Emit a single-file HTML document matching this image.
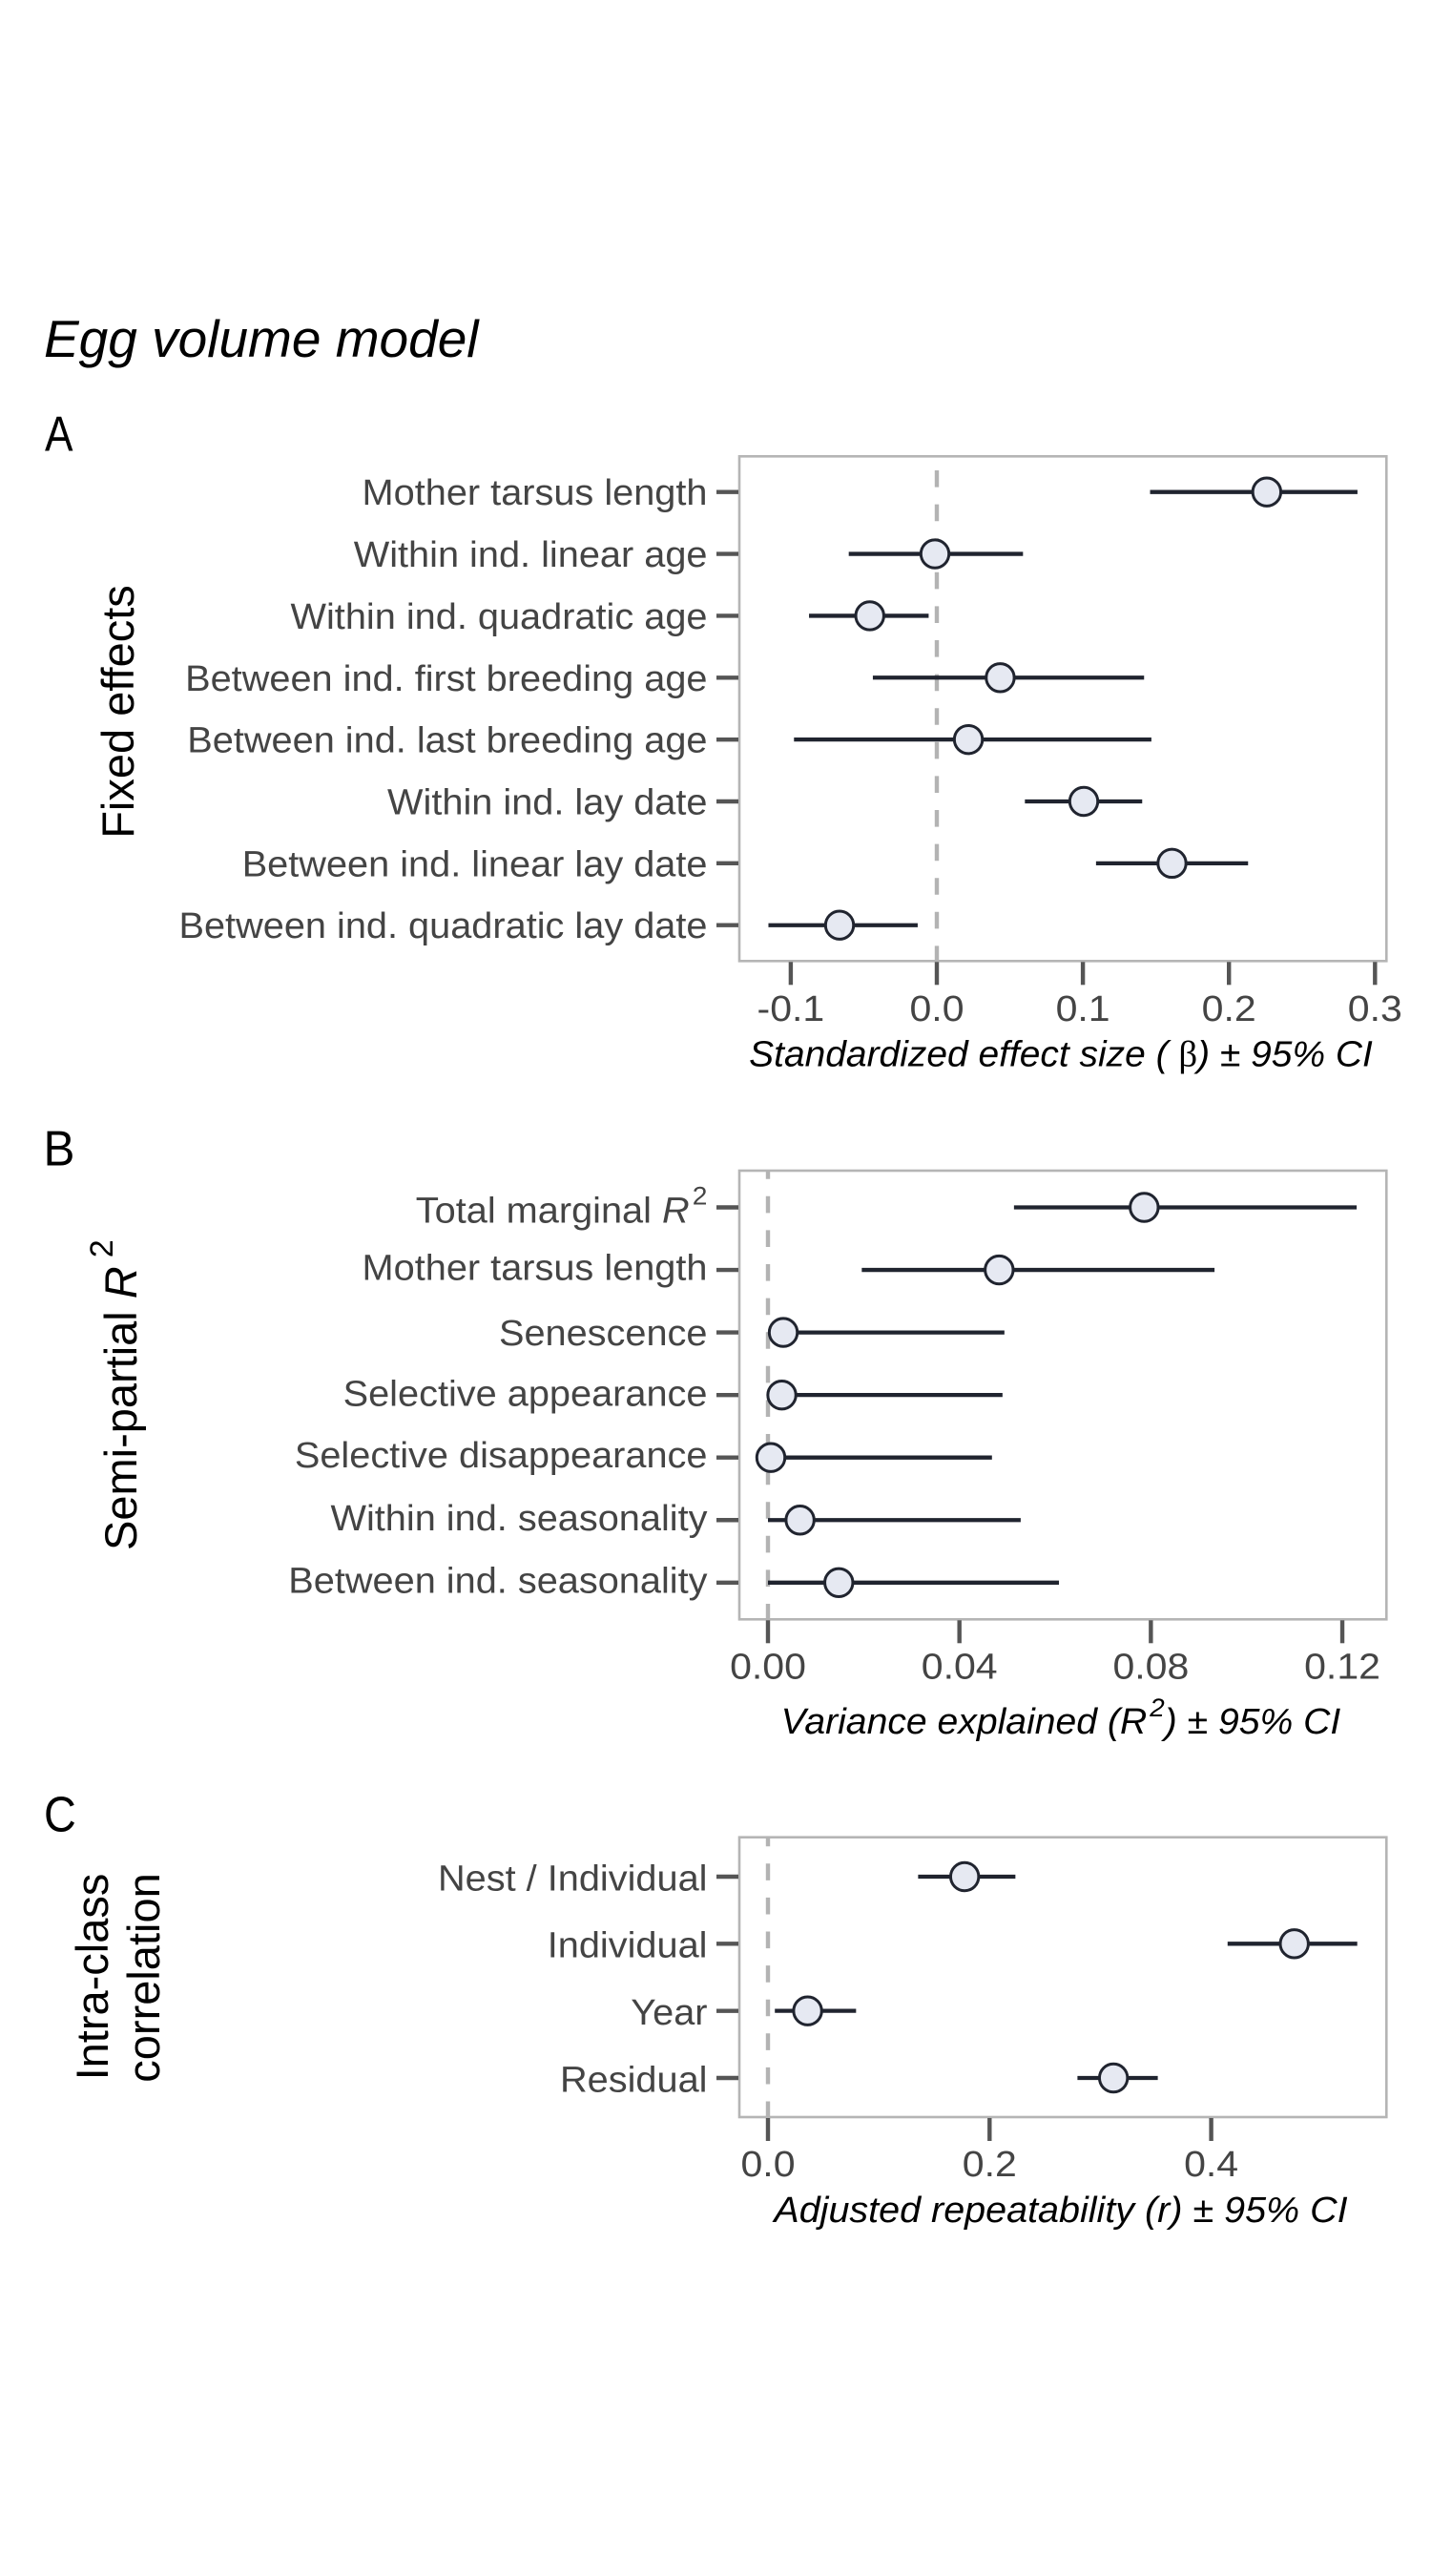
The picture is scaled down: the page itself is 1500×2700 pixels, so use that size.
<!DOCTYPE html>
<html lang="en">
<head>
<meta charset="utf-8">
<title>Egg volume model</title>
<style>
html,body{margin:0;padding:0;background:#fff;}
svg{display:block;font-family:"Liberation Sans",sans-serif;}
.ylab,.xtick{font-size:38px;fill:#444;}
.xtitle{font-size:38px;font-style:italic;fill:#000;}
.ytitle{font-size:47px;fill:#000;}
.letter{font-size:52px;fill:#000;}
</style>
</head>
<body>
<svg id="figure" xmlns="http://www.w3.org/2000/svg" width="1500" height="2700" viewBox="0 0 1500 2700">
  <rect x="0" y="0" width="1500" height="2700" fill="#fff"/>
  <text x="46" y="374" font-size="55" font-style="italic" fill="#000">Egg volume model</text>

  <text class="letter" transform="translate(47,472.7) scale(.85,1)">A</text>
  <text class="letter" transform="translate(45.5,1221.7) scale(.95,1)">B</text>
  <text class="letter" transform="translate(46,1919.5) scale(.9,1)">C</text>

  <text class="ytitle" text-anchor="middle" transform="translate(140,746) rotate(-90)">Fixed effects</text>
  <text class="ytitle" transform="translate(143,1625) rotate(-90)">Semi-partial <tspan font-style="italic">R</tspan><tspan font-size="34" dx="9" dy="-25">2</tspan></text>
  <text class="ytitle" text-anchor="middle" transform="translate(113,2072) rotate(-90)">Intra-class</text>
  <text class="ytitle" text-anchor="middle" transform="translate(167,2073) rotate(-90)">correlation</text>

  <g id="panel-a"></g>
  <g id="panel-b"></g>
  <g id="panel-c"></g>

  <text class="xtitle" text-anchor="middle" transform="translate(1112,1117.7) scale(1.025,1)">Standardized effect size ( <tspan font-family="'Liberation Serif',serif" font-style="normal">β</tspan>) ± 95% CI</text>
  <text class="xtitle" text-anchor="middle" transform="translate(1112,1817) scale(1.03,1)">Variance explained (R<tspan font-size="27" dx="3" dy="-18">2</tspan><tspan dy="18">) ± 95% CI</tspan></text>
  <text class="xtitle" text-anchor="middle" transform="translate(1112,2329) scale(1.04,1)">Adjusted repeatability (r) ± 95% CI</text>
</svg>

<script>
// Panel A data
const fixedLabels = ['Mother tarsus length','Within ind. linear age','Within ind. quadratic age','Between ind. first breeding age','Between ind. last breeding age','Within ind. lay date','Between ind. linear lay date','Between ind. quadratic lay date'];
const fixedEstimates = [0.2259,-0.0013,-0.0459,0.0434,0.0216,0.1006,0.161,-0.0666];
const fixedLower = [0.146,-0.0603,-0.0875,-0.0438,-0.0978,0.0603,0.109,-0.1153];
const fixedUpper = [0.288,0.059,-0.0056,0.1419,0.1469,0.1406,0.2131,-0.0131];
const fixedTicks = [-0.1,0,0.1,0.2,0.3];
const fixedTickLabels = ['-0.1','0.0','0.1','0.2','0.3'];

// Panel B data
const r2Labels = ['Total marginal R2','Mother tarsus length','Senescence','Selective appearance','Selective disappearance','Within ind. seasonality','Between ind. seasonality'];
const r2Estimates = [0.0786,0.0483,0.0032,0.0029,0.0006,0.0067,0.0148];
const r2Lower = [0.0514,0.0196,0,0,0,0,0];
const r2Upper = [0.123,0.0933,0.0494,0.049,0.0468,0.0528,0.0608];
const r2Ticks = [0,0.04,0.08,0.12];
const r2TickLabels = ['0.00','0.04','0.08','0.12'];

// Panel C data
const iccLabels = ['Nest / Individual','Individual','Year','Residual'];
const iccEstimates = [0.1775,0.475,0.0358,0.3118];
const iccLower = [0.1355,0.4148,0.0062,0.2793];
const iccUpper = [0.2233,0.5318,0.0795,0.3518];
const iccTicks = [0,0.2,0.4];
const iccTickLabels = ['0.0','0.2','0.4'];

const NS = 'http://www.w3.org/2000/svg';
const PANEL_LEFT = 775;
const PANEL_RIGHT = 1453.3;
const TEXT_STRETCH = 1.045;

function make(tag, attrs, parent) {
  const el = document.createElementNS(NS, tag);
  Object.keys(attrs).forEach(function (k) { el.setAttribute(k, attrs[k]); });
  parent.appendChild(el);
  return el;
}

function drawPanel(cfg) {
  const root = document.getElementById(cfg.id);
  const xScale = function (v) { return cfg.zeroX + v * cfg.pxPerUnit; };
  const yScale = function (i) { return cfg.firstY + i * cfg.rowStep; };

  const frame = make('rect', {x: PANEL_LEFT, y: cfg.top, width: PANEL_RIGHT - PANEL_LEFT, height: cfg.bottom - cfg.top, fill: '#fff', stroke: '#b5b5b5', 'stroke-width': 2.6}, root);
  
  

  cfg.ticks.forEach(function (t, i) {
    const x = xScale(t);
    const tick = make('line', {x1: x, x2: x, y1: cfg.bottom + 1, y2: cfg.bottom + 25, stroke: '#555', 'stroke-width': 4.4}, root);
    
    
    const label = make('text', {class: 'xtick', 'text-anchor': 'middle', transform: 'translate(' + x + ',' + cfg.tickBaseline + ') scale(1.08,1)'}, root);
    
    
    label.textContent = cfg.tickLabels[i];
  });

  const zero = make('line', {x1: xScale(0), x2: xScale(0), y1: cfg.top, y2: cfg.bottom, stroke: '#b3b3b3', 'stroke-width': 4.4, 'stroke-dasharray': '17.6 18', 'stroke-dashoffset': cfg.dashOffset}, root);
  
  

  cfg.labels.forEach(function (name, i) {
    const y = yScale(i);
    const tick = make('line', {x1: 751, x2: PANEL_LEFT - 1, y1: y, y2: y, stroke: '#555', 'stroke-width': 4.4}, root);
    
    

    const nudge = cfg.labelNudge[name] || 0;
    const label = make('text', {class: 'ylab', 'text-anchor': 'end', transform: 'translate(741.5,' + (y + cfg.labelDrop + nudge) + ') scale(' + TEXT_STRETCH + ',1)'}, root);
    
    
    if (/ R2$/.test(name)) {
      label.appendChild(document.createTextNode(name.slice(0, -2)));
      make('tspan', {'font-style': 'italic'}, label).textContent = 'R';
      make('tspan', {'font-size': 27, dx: 3, dy: -19}, label).textContent = '2';
    } else {
      label.textContent = name;
    }

    const ci = make('line', {x1: xScale(cfg.lower[i]), x2: xScale(cfg.upper[i]), y1: y, y2: y, stroke: '#20242f', 'stroke-width': 4.3}, root);
    
    

    const pt = make('circle', {cx: xScale(cfg.estimates[i]), cy: y, r: 14.7, fill: '#e6e9f2', stroke: '#20242f', 'stroke-width': 3}, root);
    
    
  });
}

drawPanel({id: 'panel-a', top: 478.3, bottom: 1007.3, firstY: 515.7, rowStep: 64.86, zeroX: 982, pxPerUnit: 1531, tickBaseline: 1070, dashOffset: 20.9, labelDrop: 13.5, labelNudge: {},
  labels: fixedLabels, estimates: fixedEstimates, lower: fixedLower, upper: fixedUpper, ticks: fixedTicks, tickLabels: fixedTickLabels});

drawPanel({id: 'panel-b', top: 1227, bottom: 1697.3, firstY: 1265.5, rowStep: 65.55, zeroX: 805, pxPerUnit: 5017, tickBaseline: 1759.3, dashOffset: 8.8, labelDrop: 10.5, labelNudge: {'Total marginal R2': 5.5, 'Senescence': 3, 'Selective appearance': 1},
  labels: r2Labels, estimates: r2Estimates, lower: r2Lower, upper: r2Upper, ticks: r2Ticks, tickLabels: r2TickLabels});

drawPanel({id: 'panel-c', top: 1925.7, bottom: 2219, firstY: 1967, rowStep: 70.33, zeroX: 805, pxPerUnit: 1161.5, tickBaseline: 2281, dashOffset: 8, labelDrop: 14.3, labelNudge: {},
  labels: iccLabels, estimates: iccEstimates, lower: iccLower, upper: iccUpper, ticks: iccTicks, tickLabels: iccTickLabels});
</script>
</body>
</html>
